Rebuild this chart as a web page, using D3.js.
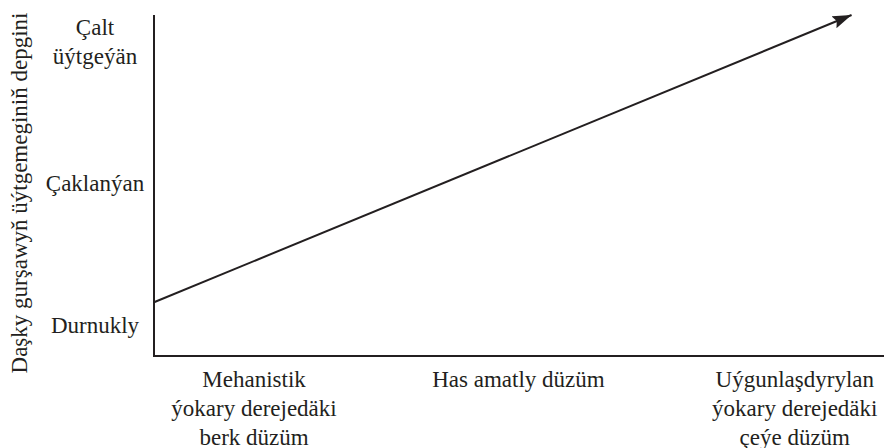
<!DOCTYPE html>
<html>
<head>
<meta charset="utf-8">
<script src="https://cdn.jsdelivr.net/npm/d3@7"></script>
</head>
<body style="margin:0">
<svg id="chart" width="886" height="448" style="display:block;background:#ffffff"></svg>
<script>
// ---- data ----
const categories = [
  ["Mehanistik", "ýokary derejedäki", "berk düzüm"],
  ["Has amatly düzüm"],
  ["Uýgunlaşdyrylan", "ýokary derejedäki", "çeýe düzüm"]
];
const categoryValues = [0, 1, 2];
const levels = [
  ["Durnukly"],
  ["Çaklanýan"],
  ["Çalt", "üýtgeýän"]
];
const levelValues = [0, 1, 2];
const trendX = [-0.37, 2.21];
const trendY = [0.16, 2.19];
const yTitle = "Daşky gurşawyň üýtgemeginiň depgini";

// ---- layout ----
const svg = d3.select("#chart");
const ink = "#231f20";
const fontFam = "Liberation Serif";
const lineH = 29;

const x = d3.scaleLinear().domain([-0.37, 2.33]).range([154, 884]);
const y = d3.scaleLinear().domain([-0.22, 2.19]).range([356, 15]);

// arrow marker
svg.append("defs").append("marker")
  .attr("id", "arrow")
  .attr("markerUnits", "userSpaceOnUse")
  .attr("viewBox", "0 0 20 14")
  .attr("markerWidth", 20)
  .attr("markerHeight", 14)
  .attr("refX", 19)
  .attr("refY", 7)
  .attr("orient", "auto")
  .append("path")
  .attr("d", "M0,0.5 L19,7 L0,13.5 L3,7 Z")
  .attr("fill", ink);

// axes (lines only)
svg.append("path")
  .attr("d", d3.line()([[x(-0.37), y(2.19)], [x(-0.37), y(-0.22)], [x(2.33), y(-0.22)]]))
  .attr("fill", "none")
  .attr("stroke", ink)
  .attr("stroke-width", 2);

// trend line
const pts = trendX.map((d, i) => [x(d), y(trendY[i])]);
svg.append("path")
  .attr("d", d3.line()(pts))
  .attr("fill", "none")
  .attr("stroke", ink)
  .attr("stroke-width", 2)
  .attr("marker-end", "url(#arrow)");

// y level labels
levels.forEach((lines, i) => {
  const n = lines.length;
  const y0 = y(levelValues[i]) + 8 - (n - 1) / 2 * lineH;
  lines.forEach((s, j) => {
    svg.append("text")
      .attr("x", 95)
      .attr("y", y0 + j * lineH)
      .attr("text-anchor", "middle")
      .style("font-family", fontFam)
      .style("font-size", "23px")
      .style("fill", ink)
      .text(s);
  });
});

// x category labels
categories.forEach((lines, i) => {
  const cx = x(categoryValues[i]) + (i === 1 ? -6 : 0);
  lines.forEach((s, j) => {
    svg.append("text")
      .attr("x", cx)
      .attr("y", 387 + j * lineH)
      .attr("text-anchor", "middle")
      .style("font-family", fontFam)
      .style("font-size", "23px")
      .style("fill", ink)
      .text(s);
  });
});

// y title
svg.append("text")
  .attr("transform", "translate(27,193) rotate(-90)")
  .attr("text-anchor", "middle")
  .style("font-family", fontFam)
  .style("font-size", "23px")
  .style("fill", ink)
  .text(yTitle);
</script>
</body>
</html>
